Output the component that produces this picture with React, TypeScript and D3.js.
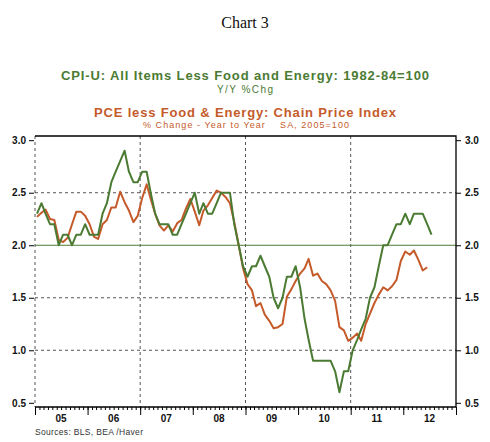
import React, { useEffect, useRef } from 'react';
import * as d3 from 'd3';

// monthly Y/Y % change, starting Jan 2005
const startYear = 2005;

const cpiValues = [
  2.3, 2.4, 2.3, 2.2, 2.2, 2.0, 2.1, 2.1, 2.0, 2.1, 2.1, 2.2,
  2.1, 2.1, 2.1, 2.3, 2.4, 2.6, 2.7, 2.8, 2.9, 2.7, 2.6, 2.6,
  2.7, 2.7, 2.5, 2.3, 2.2, 2.2, 2.2, 2.1, 2.1, 2.2, 2.3, 2.4,
  2.5, 2.3, 2.4, 2.3, 2.3, 2.4, 2.5, 2.5, 2.5, 2.2, 2.0, 1.8,
  1.7, 1.8, 1.8, 1.9, 1.8, 1.7, 1.5, 1.4, 1.5, 1.7, 1.7, 1.8,
  1.6, 1.3, 1.1, 0.9, 0.9, 0.9, 0.9, 0.9, 0.8, 0.6, 0.8, 0.8,
  1.0, 1.1, 1.2, 1.3, 1.5, 1.6, 1.8, 2.0, 2.0, 2.1, 2.2, 2.2,
  2.3, 2.2, 2.3, 2.3, 2.3, 2.2, 2.1,
];

const pceValues = [
  2.27, 2.31, 2.34, 2.25, 2.24, 2.05, 2.03, 2.07, 2.20, 2.32, 2.32, 2.28,
  2.20, 2.08, 2.06, 2.20, 2.24, 2.36, 2.36, 2.51, 2.41, 2.33, 2.22, 2.28,
  2.45, 2.58, 2.44, 2.30, 2.19, 2.14, 2.19, 2.13, 2.21, 2.24, 2.35, 2.44,
  2.32, 2.19, 2.33, 2.38, 2.45, 2.52, 2.50, 2.46, 2.40, 2.22, 2.00, 1.78,
  1.63, 1.57, 1.42, 1.45, 1.34, 1.28, 1.21, 1.22, 1.25, 1.51, 1.58, 1.66,
  1.73, 1.78, 1.87, 1.71, 1.73, 1.66, 1.63, 1.57, 1.47, 1.22, 1.19, 1.09,
  1.12, 1.16, 1.09, 1.25, 1.35, 1.45, 1.53, 1.60, 1.57, 1.61, 1.67, 1.85,
  1.94, 1.91, 1.95, 1.86, 1.76, 1.79,
];

const yearLabels = ['05', '06', '07', '08', '09', '10', '11', '12'];
const yTicks = [0.5, 1.0, 1.5, 2.0, 2.5, 3.0];
const gridValues = [1.0, 1.5, 2.5];
const dashedYears = [2005, 2007, 2009, 2011];
const refLevel = 2.0;

const GREEN = '#4b7b32';
const ORANGE = '#c55a2b';
const SANS = '"Liberation Sans", Arial, sans-serif';

const monthDate = (i: number) => new Date(startYear, i, 15);

const App = () => {
  const svgRef = useRef<SVGSVGElement>(null);

  useEffect(() => {
    const svg = d3.select(svgRef.current);
    svg.selectAll('*').remove();

    const left = 35, right = 456, top = 136, bottom = 407;

    const x = d3.scaleTime()
      .domain([new Date(startYear, 0, 1), new Date(startYear + yearLabels.length, 0, 1)])
      .range([left, right]);

    const y = d3.scaleLinear()
      .domain([0.46, 3.04])
      .range([bottom, top]);

    // headings
    svg.append('text')
      .attr('x', 245).attr('y', 28)
      .attr('text-anchor', 'middle')
      .attr('font-family', '"Liberation Serif", "Times New Roman", serif')
      .attr('font-size', 16)
      .attr('fill', '#111')
      .text('Chart 3');

    const heading = (txt, yy, size, weight, color, len) => {
      svg.append('text')
        .attr('x', 245).attr('y', yy)
        .attr('text-anchor', 'middle')
        .attr('font-family', SANS)
        .attr('font-size', size)
        .attr('font-weight', weight)
        .attr('fill', color)
        .attr('textLength', len)
        .attr('lengthAdjust', 'spacing')
        .text(txt);
    };
    heading('CPI-U: All Items Less Food and Energy: 1982-84=100', 80, 13, 'bold', GREEN, 368);
    heading('Y/Y %Chg', 93, 10, 'normal', GREEN, 56);
    heading('PCE less Food & Energy: Chain Price Index', 117, 13, 'bold', ORANGE, 302);
    svg.append('text')
      .attr('x', 143).attr('y', 128)
      .attr('font-family', SANS)
      .attr('font-size', 9)
      .attr('fill', ORANGE)
      .attr('textLength', 206)
      .attr('lengthAdjust', 'spacing')
      .attr('xml:space', 'preserve')
      .text('% Change - Year to Year    SA, 2005=100');

    // dashed grid
    svg.append('g')
      .selectAll('line')
      .data(gridValues)
      .enter()
      .append('line')
      .attr('x1', left).attr('x2', right)
      .attr('y1', d => y(d)).attr('y2', d => y(d))
      .attr('stroke', '#555')
      .attr('stroke-dasharray', '3,3');

    svg.append('g')
      .selectAll('line')
      .data(dashedYears)
      .enter()
      .append('line')
      .attr('x1', d => x(new Date(d, 0, 1))).attr('x2', d => x(new Date(d, 0, 1)))
      .attr('y1', top).attr('y2', bottom)
      .attr('stroke', '#555')
      .attr('stroke-dasharray', '3,3');

    // reference line at 2%
    svg.append('line')
      .attr('x1', left).attr('x2', right)
      .attr('y1', y(refLevel)).attr('y2', y(refLevel))
      .attr('stroke', GREEN)
      .attr('stroke-width', 1.2);

    // frame: top, right, bottom
    svg.append('path')
      .attr('d', `M${left},${top}H${right}V${bottom}H${left}`)
      .attr('fill', 'none')
      .attr('stroke', '#000')
      .attr('stroke-width', 1.3);

    const styleAxis = (g) => {
      g.select('.domain').remove();
      g.selectAll('line').attr('stroke', '#000');
      g.selectAll('text')
        .attr('font-family', SANS)
        .attr('font-size', 10)
        .attr('font-weight', 'bold')
        .attr('fill', '#111');
    };

    svg.append('g')
      .attr('transform', `translate(${left - 1},0)`)
      .call(d3.axisLeft(y).tickValues(yTicks).tickSize(5).tickPadding(3).tickFormat(d3.format('.1f')))
      .call(styleAxis);

    svg.append('g')
      .attr('transform', `translate(${right},0)`)
      .call(d3.axisRight(y).tickValues(yTicks).tickSize(5).tickPadding(4).tickFormat(d3.format('.1f')))
      .call(styleAxis);

    // month and year ticks along the bottom
    svg.append('g')
      .attr('transform', `translate(0,${bottom})`)
      .call(d3.axisBottom(x).ticks(d3.timeMonth.every(1)).tickSize(3).tickFormat(() => ''))
      .call(styleAxis);

    svg.append('g')
      .attr('transform', `translate(0,${bottom})`)
      .call(d3.axisBottom(x).ticks(d3.timeYear.every(1)).tickSize(8).tickFormat(() => ''))
      .call(styleAxis);

    svg.append('g')
      .selectAll('text')
      .data(yearLabels)
      .enter()
      .append('text')
      .attr('x', (d, i) => x(new Date(startYear + i, 6, 1)))
      .attr('y', 422)
      .attr('text-anchor', 'middle')
      .attr('font-family', SANS)
      .attr('font-size', 10)
      .attr('font-weight', 'bold')
      .attr('fill', '#111')
      .text(d => d);

    svg.append('text')
      .attr('x', 35).attr('y', 435)
      .attr('font-family', SANS)
      .attr('font-size', 8.5)
      .attr('fill', '#333')
      .attr('textLength', 108)
      .attr('lengthAdjust', 'spacing')
      .text('Sources: BLS, BEA /Haver');

    const line = d3.line<number>()
      .x((d, i) => x(monthDate(i)))
      .y(d => y(d));

    svg.append('path')
      .datum(pceValues)
      .attr('fill', 'none')
      .attr('stroke', ORANGE)
      .attr('stroke-width', 2)
      .attr('stroke-linejoin', 'round')
      .attr('d', line);

    svg.append('path')
      .datum(cpiValues)
      .attr('fill', 'none')
      .attr('stroke', GREEN)
      .attr('stroke-width', 2)
      .attr('stroke-linejoin', 'round')
      .attr('d', line);
  }, []);

  return (
    <svg
      ref={svgRef}
      width={490}
      height={442}
      style={{ position: 'absolute', left: 0, top: 0, background: '#fff' }}
    />
  );
};

export default App;
